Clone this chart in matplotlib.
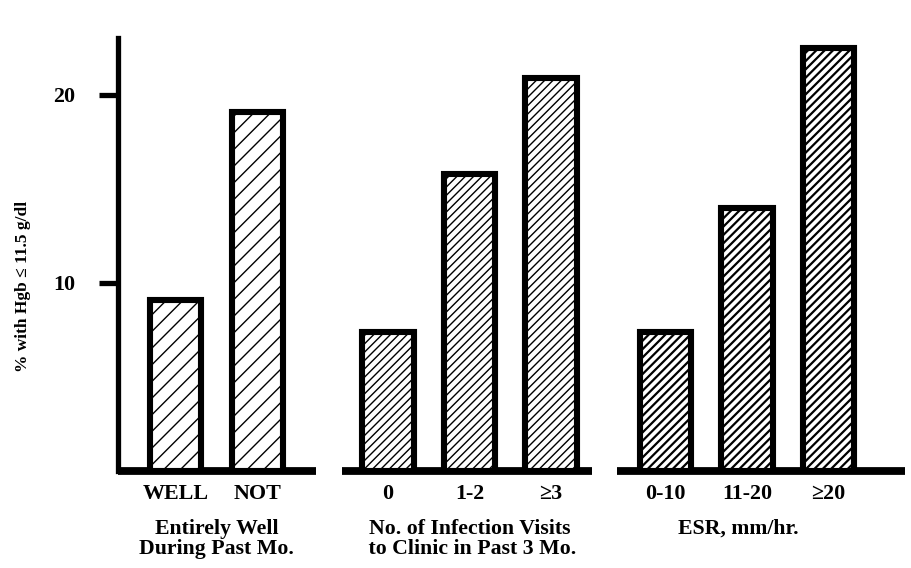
import matplotlib
matplotlib.use("Agg")
import matplotlib.pyplot as plt

# data
group_titles = ["Entirely Well\nDuring Past Mo.",
                "No. of Infection Visits\n to Clinic in Past 3 Mo.",
                "ESR, mm/hr."]
well_labels = ["WELL", "NOT"]
well_values = [9.1, 19.1]
visit_labels = ["0", "1-2", "\u22653"]
visit_values = [7.4, 15.8, 20.9]
esr_labels = ["0-10", "11-20", "\u226520"]
esr_values = [7.4, 14.0, 22.5]

groups = [(well_labels, well_values), (visit_labels, visit_values), (esr_labels, esr_values)]

# layout / style
group_start = [0.0, 2.6, 6.0]
hatches = ["//", "////", "////"]
hatch_lw = [1.0, 1.0, 1.6]
title_dx = [0, 0, -6]
base_margin = [(None, 0.72), (0.56, 0.50), (0.59, 0.94)]
serif = ["Liberation Serif", "DejaVu Serif"]

plt.rcParams["font.family"] = serif
plt.rcParams["font.weight"] = "bold"

fig = plt.figure(figsize=(9.12, 5.68), dpi=100)
ax = fig.add_axes([118 / 912, 97 / 568, 787 / 912, 433 / 568])
x_left = -0.708
ax.set_xlim(x_left, x_left + 787 / 81.6)
ax.set_ylim(0, 433 / 18.8)

ticks, ticklabels = [], []
for gi, (labels, vals) in enumerate(groups):
    xs = [group_start[gi] + i for i in range(len(vals))]
    with plt.rc_context({"hatch.linewidth": hatch_lw[gi]}):
        bars = ax.bar(xs, vals, width=0.63, facecolor="white", edgecolor="black",
                      linewidth=4.4, hatch=hatches[gi], zorder=3)
    for b in bars:
        if hasattr(b, "set_hatch_linewidth"):
            b.set_hatch_linewidth(hatch_lw[gi])
    lm, rm = base_margin[gi]
    x0 = x_left if lm is None else xs[0] - lm
    ax.hlines(0, x0, xs[-1] + rm, color="black", linewidth=5.6, zorder=2,
              clip_on=False)
    ticks += xs
    ticklabels += labels
    ax.annotate(group_titles[gi], xy=(sum(xs) / len(xs), 0),
                xycoords=ax.get_xaxis_transform(), xytext=(title_dx[gi], -34.5),
                textcoords="offset points", ha="center", va="top",
                multialignment="center", fontsize=15.7, linespacing=1.0,
                fontweight="bold", annotation_clip=False)

ax.set_xticks(ticks, ticklabels)
ax.tick_params(axis="x", length=0, pad=9.5, labelsize=15.8)

ax.set_yticks([10, 20])
ax.tick_params(axis="y", direction="out", length=13.7, width=3.8, pad=17,
               labelsize=15.8)

for s in ["top", "right", "bottom"]:
    ax.spines[s].set_visible(False)
ax.spines["left"].set_linewidth(3.8)

ax.set_ylabel("% with Hgb \u2264 11.5 g/dl", fontsize=12.5, fontweight="bold")
ax.yaxis.set_label_coords(-0.11, 0.427)

fig.savefig("out.png", dpi=100)
